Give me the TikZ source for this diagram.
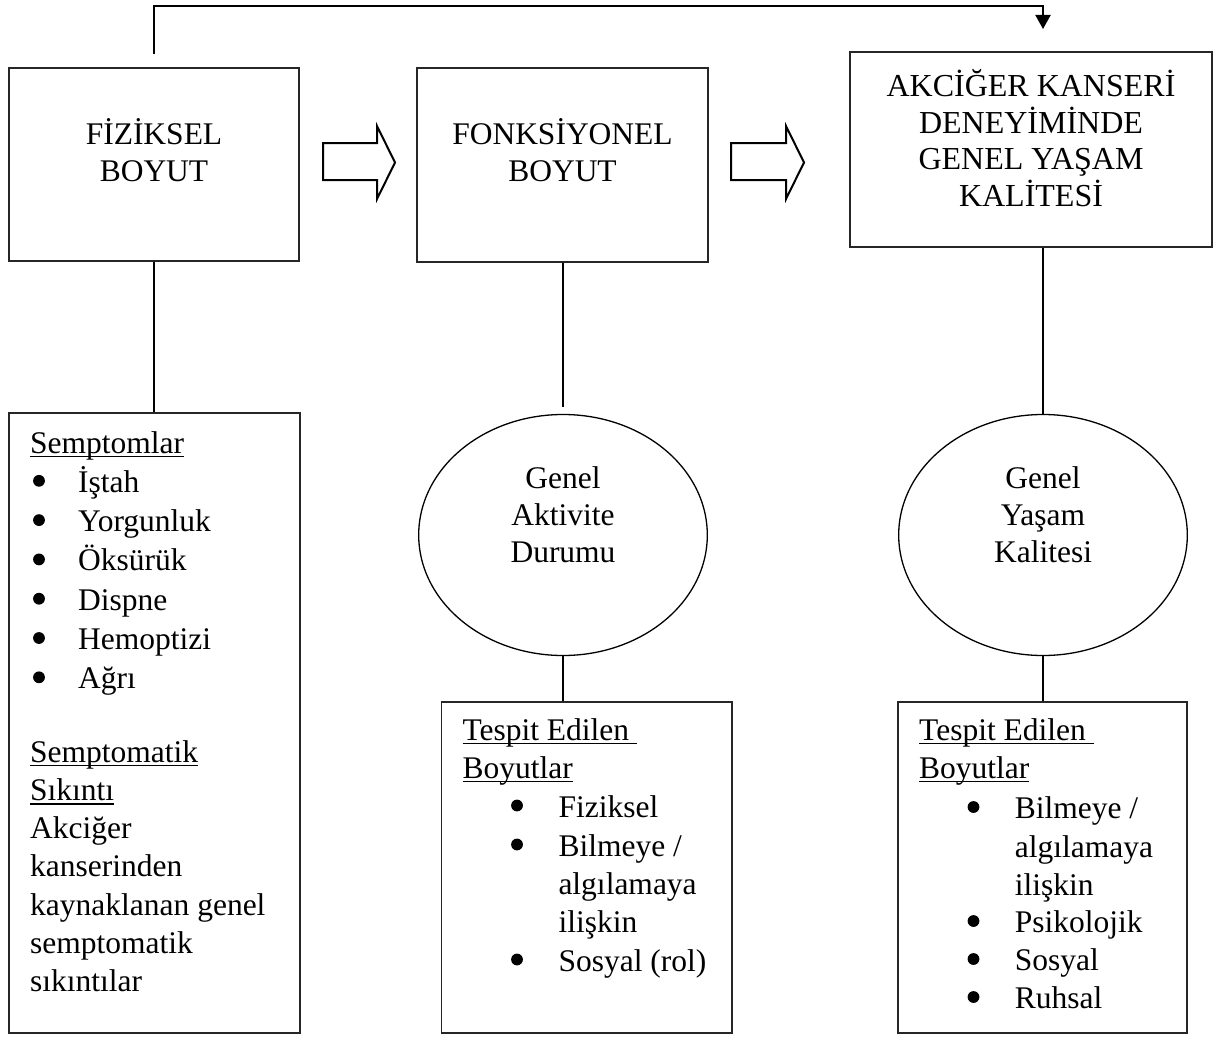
\documentclass[tikz,border=0pt]{standalone}
\usepackage{fontspec}
\setmainfont{Liberation Serif}
\usetikzlibrary{arrows.meta,shapes.geometric}
\newcommand\ulx[1]{\setbox0=\hbox{#1}\rlap{\rule[-4.2pt]{\wd0}{1.4pt}}\box0}
\newcommand\litem[5]{\node[bul] (#1b) at (#2,#4-11.5) {}; \node[txt] (#1) at (#3,#4) {#5};}
\begin{document}
\begin{tikzpicture}[x=1pt,y=-1pt,
  boxst/.style={draw=black!85, line width=1.3pt, rectangle, inner sep=0pt},
  ellst/.style={draw=black, line width=1.3pt, ellipse, inner sep=0pt, minimum width=288.6pt, minimum height=241pt},
  txt/.style={inner sep=0pt, anchor=base west, font=\fontsize{31.5}{37}\selectfont},
  ctxt/.style={inner sep=0pt, anchor=base, font=\fontsize{31.5}{37}\selectfont},
  ctxts/.style={inner sep=0pt, anchor=base, font=\fontsize{32}{37}\selectfont},
  bul/.style={circle, fill=black, inner sep=0pt, minimum size=11.8pt},
  conn/.style={draw=black, line width=1.3pt},
  hol/.style={draw=black, line width=2pt, line join=miter},
  topconn/.style={draw=black, line width=2pt, -{Triangle[length=14pt,width=15pt]}}
]
\useasboundingbox (0,0) rectangle (1216,1041);

% top boxes
\node[boxst, minimum width=290pt, minimum height=193pt] (box1) at (154,164.5) {};
\node[boxst, minimum width=291pt, minimum height=194pt] (box2) at (562.5,165) {};
\node[boxst, minimum width=362pt, minimum height=195pt] (box3) at (1031,149.5) {};

\node[ctxt] (t1a) at (154,144) {FİZİKSEL};
\node[ctxt] (t1b) at (154,181) {BOYUT};
\node[ctxt] (t2a) at (562.5,144) {FONKSİYONEL};
\node[ctxt] (t2b) at (562.5,181) {BOYUT};
\node[ctxts] (t3a) at (1031,96) {AKCİĞER KANSERİ};
\node[ctxts] (t3b) at (1031,133) {DENEYİMİNDE};
\node[ctxts] (t3c) at (1031,169.5) {GENEL YAŞAM};
\node[ctxts] (t3d) at (1031,206) {KALİTESİ};

% hollow arrows
\draw[hol] (323,143) -- (377,143) -- (377,126) -- (395,162.5) -- (377,199) -- (377,180) -- (323,180) -- cycle;
\draw[hol] (731,143) -- (786,143) -- (786,126) -- (804,162.5) -- (786,199) -- (786,180) -- (731,180) -- cycle;

% top feedback connector
\coordinate (c1) at (154,54);
\coordinate (c2) at (1043,29);
\draw[topconn] (c1) -- ++(0,-48) -| (c2);

% ellipses
\node[ellst] (ell1) at (563,535) {};
\node[ellst] (ell2) at (1043,535) {};
\node[ctxt] (e1a) at (563,488) {Genel};
\node[ctxt] (e1b) at (563,525.7) {Aktivite};
\node[ctxt] (e1c) at (563,562.7) {Durumu};
\node[ctxt] (e2a) at (1043,488) {Genel};
\node[ctxt] (e2b) at (1043,525.7) {Yaşam};
\node[ctxt] (e2c) at (1043,562.7) {Kalitesi};

% bottom boxes
\node[boxst, minimum width=291pt, minimum height=620pt] (box4) at (154.5,723) {};
\node[boxst, minimum width=290.5pt, minimum height=331pt] (box5) at (586.75,867.5) {};
\node[boxst, minimum width=289pt, minimum height=331pt] (box6) at (1042.5,867.5) {};

% connectors
\draw[conn] (c1 |- box1.south) -- (c1 |- box4.north);
\draw[conn] (ell1.north |- box2.south) -- ([yshift=6.5pt]ell1.north);
\draw[conn] (ell2.north |- box3.south) -- (ell2.north);
\draw[conn] (ell1.south) -- (ell1.south |- box5.north);
\draw[conn] (ell2.south) -- (ell2.south |- box6.north);

% box4 text
\node[txt] (s0) at (30,453) {\ulx{Semptomlar}};
\litem{s1}{39}{78}{492.3}{İştah}
\litem{s2}{39}{78}{531.6}{Yorgunluk}
\litem{s3}{39}{78}{570.9}{Öksürük}
\litem{s4}{39}{78}{610.2}{Dispne}
\litem{s5}{39}{78}{649.5}{Hemoptizi}
\litem{s6}{39}{78}{688.8}{Ağrı}
\node[txt] (p1) at (30,762) {\ulx{Semptomatik}};
\node[txt] (p2) at (30,800.3) {\ulx{Sıkıntı}};
\node[txt] (p3) at (30,838.6) {Akciğer};
\node[txt] (p4) at (30,876.9) {kanserinden};
\node[txt] (p5) at (30,915.2) {kaynaklanan genel};
\node[txt] (p6) at (30,953.5) {semptomatik};
\node[txt] (p7) at (30,991.8) {sıkıntılar};

% box5 text
\node[txt] (f0) at (462.3,740) {\ulx{Tespit Edilen\ }};
\node[txt] (f1) at (462.3,778) {\ulx{Boyutlar}};
\litem{f2}{517}{558.3}{817}{Fiziksel}
\litem{f3}{517}{558.3}{856}{Bilmeye /}
\node[txt] (f4) at (558.3,894.5) {algılamaya};
\node[txt] (f5) at (558.3,932.5) {ilişkin};
\litem{f6}{517}{558.3}{971}{Sosyal (rol)}

% box6 text
\node[txt] (g0) at (919,740) {\ulx{Tespit Edilen\ }};
\node[txt] (g1) at (919,778) {\ulx{Boyutlar}};
\litem{g2}{973.5}{1014.6}{818.5}{Bilmeye /}
\node[txt] (g3) at (1014.6,857) {algılamaya};
\node[txt] (g4) at (1014.6,895) {ilişkin};
\litem{g5}{973.5}{1014.6}{932.5}{Psikolojik}
\litem{g6}{973.5}{1014.6}{970.5}{Sosyal}
\litem{g7}{973.5}{1014.6}{1008.5}{Ruhsal}
\end{tikzpicture}
\end{document}
